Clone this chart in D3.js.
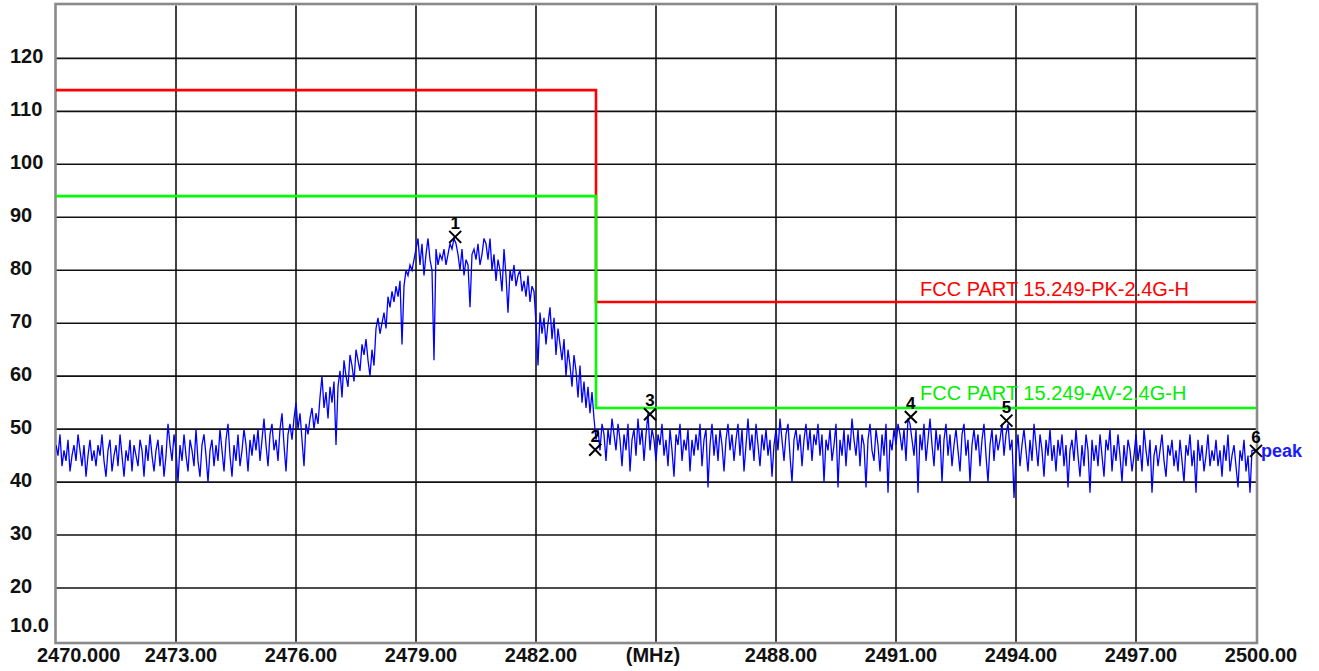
<!DOCTYPE html>
<html>
<head>
<meta charset="utf-8">
<script src="https://cdn.jsdelivr.net/npm/d3@7"></script>
<style>
  html, body { margin: 0; padding: 0; background: #fff; }
  svg { display: block; }
  text { font-family: "Liberation Sans", Arial, sans-serif; }
</style>
</head>
<body>
<svg id="chart" width="1319" height="671"></svg>
<script>
// ---------------- data ----------------
const freqStart = 2470.0;     // MHz
const freqStop = 2500.0;      // MHz
const sweepStep = 0.05;       // MHz between trace points

// peak detector trace (dBuV/m), one value per 0.05 MHz from 2470.00 MHz
const peakTrace = [
  // 2470-2471
  47,45,49,43,46,44,48,42,45,47,44,49,46,43,47,41,45,48,44,46,
  // 2471-2472
  43,47,45,49,44,41,46,48,42,45,47,43,49,45,41,46,44,48,42,47,
  // 2472-2473
  45,43,48,46,41,47,44,49,45,42,46,48,43,47,41,45,51,47,44,49,
  // 2473-2474
  46,40,47,44,49,45,42,48,46,43,50,44,41,47,49,45,40,46,48,43,
  // 2474-2475
  47,44,50,46,42,48,51,45,41,47,44,49,43,46,50,47,42,48,45,49,
  // 2475-2476
  46,50,44,48,52,47,43,49,51,46,48,44,50,53,47,42,49,51,48,52,
  // 2476-2477
  55,50,53,48,43,51,49,52,54,50,53,51,56,60,54,57,52,58,55,59,
  // 2477-2478
  47,58,61,56,63,60,58,64,62,59,65,63,61,66,64,67,63,60,65,62,
  // 2478-2479
  69,71,68,70,72,69,75,73,76,74,77,75,78,66,77,80,79,81,80,82,
  // 2479-2480
  84,86,81,85,79,83,86,82,80,63,84,81,83,82,84,81,83,85,84,86,
  // 2480-2481
  85,83,80,84,79,82,81,73,83,84,82,85,81,83,86,85,82,86,80,83,
  // 2481-2482
  78,82,80,76,84,79,72,80,78,81,77,79,80,76,78,75,79,74,77,76,
  // 2482-2483
  70,62,72,68,71,66,70,73,67,71,64,69,66,63,67,60,65,62,58,64,
  // 2483-2484
  61,56,62,55,59,54,58,53,57,52,48,50,46,51,49,44,50,47,52,49,
  // 2484-2485
  46,51,48,43,49,46,51,42,48,50,45,52,47,50,44,49,53,46,50,48,
  // 2485-2486
  44,49,47,51,45,48,43,50,46,41,49,47,51,44,48,46,50,42,48,45,
  // 2486-2487
  49,46,51,43,48,50,39,47,51,45,49,44,50,47,42,48,51,46,49,44,
  // 2487-2488
  48,51,45,50,42,47,52,46,49,44,51,47,43,49,46,50,45,48,41,47,
  // 2488-2489
  50,46,52,48,44,49,51,45,40,48,50,46,49,43,48,51,46,50,44,49,
  // 2489-2490
  47,51,45,49,40,48,46,50,44,47,51,39,48,45,50,43,49,46,52,48,
  // 2490-2491
  45,50,43,49,47,39,48,51,46,44,50,47,42,49,45,51,38,48,46,50,
  // 2491-2492
  47,51,49,46,50,44,52,51,48,45,50,38,49,46,51,44,48,52,47,43,
  // 2492-2493
  50,46,49,40,48,51,45,49,43,47,50,46,42,49,51,45,48,40,47,50,
  // 2493-2494
  46,49,43,48,51,45,40,47,50,44,49,46,48,51,45,49,51,46,48,37,
  // 2494-2495
  45,49,43,47,50,46,42,48,44,51,47,43,49,46,41,48,45,50,44,47,
  // 2495-2496
  42,48,45,49,43,47,39,46,48,44,50,45,41,47,43,49,46,38,48,44,
  // 2496-2497
  47,43,49,45,41,48,46,50,42,47,44,49,45,40,47,43,48,46,42,45,
  // 2497-2498
  49,44,47,42,50,46,43,48,38,45,47,43,46,49,44,41,47,45,48,43,
  // 2498-2499
  46,42,48,44,40,47,45,49,43,46,38,48,44,47,42,45,49,43,46,44,
  // 2499-2500
  48,43,46,41,47,44,49,42,45,47,43,39,46,44,48,42,45,38,46,46,
  46
];

// limit lines (step at 2483.5 MHz)
const limitFreqs = [2470.0, 2483.5, 2483.5, 2500.0];
const limitPK = [114, 114, 74, 74];
const limitAV = [94, 94, 54, 54];
const limitPKName = "FCC PART 15.249-PK-2.4G-H";
const limitAVName = "FCC PART 15.249-AV-2.4G-H";

// markers
const markerIds = ["1", "2", "3", "4", "5", "6"];
const markerFreqs = [2479.98, 2483.48, 2484.85, 2491.37, 2493.76, 2500.00];
const markerLevels = [86.3, 46.1, 52.8, 52.3, 51.6, 45.9];

// axes
const yTicks = [20, 30, 40, 50, 60, 70, 80, 90, 100, 110, 120];
const yTickLabels = ["20", "30", "40", "50", "60", "70", "80", "90", "100", "110", "120"];
const yBottomLabel = "10.0";
const xTicks = [2470, 2473, 2476, 2479, 2482, 2485, 2488, 2491, 2494, 2497, 2500];
const xTickLabels = ["2470.000", "2473.00", "2476.00", "2479.00", "2482.00", "(MHz)",
                     "2488.00", "2491.00", "2494.00", "2497.00", "2500.00"];
const traceName = "peak";

// ---------------- drawing ----------------
const svg = d3.select("#chart");
const x = d3.scaleLinear().domain([freqStart, freqStop]).range([56, 1256]);
const y = d3.scaleLinear().domain([10, 130]).range([641, 5.4]);

svg.append("defs").append("clipPath").attr("id", "plotclip")
  .append("rect").attr("x", 56).attr("y", 5).attr("width", 1201).attr("height", 637);

// grid
const grid = svg.append("g");
grid.selectAll("line.h").data(yTicks).join("line")
  .attr("x1", x(freqStart)).attr("x2", x(freqStop))
  .attr("y1", d => y(d)).attr("y2", d => y(d))
  .attr("stroke", "#111").attr("stroke-width", 1.6);
grid.selectAll("line.v").data(xTicks.slice(1, -1)).join("line")
  .attr("x1", d => x(d)).attr("x2", d => x(d))
  .attr("y1", y(130)).attr("y2", 643)
  .attr("stroke", "#111").attr("stroke-width", 1.6);

// frame
svg.append("rect")
  .attr("x", 55.5).attr("y", 4).attr("width", 1201.5).attr("height", 639)
  .attr("fill", "none").attr("stroke", "#8a8a8a").attr("stroke-width", 2.6);

// y labels
svg.append("g").selectAll("text").data(yTicks).join("text")
  .attr("x", 10).attr("y", d => y(d) + 5)
  .attr("font-size", 20).attr("font-weight", "bold").attr("fill", "#111")
  .text((d, i) => yTickLabels[i]);
svg.append("text").attr("x", 10).attr("y", y(10) - 9)
  .attr("font-size", 20).attr("font-weight", "bold").attr("fill", "#111")
  .text(yBottomLabel);

// x labels
svg.append("g").selectAll("text").data(xTicks).join("text")
  .attr("x", (d, i) => i === 0 ? 37 : (i === 5 ? x(d) - 3 : x(d) + 5))
  .attr("y", 662)
  .attr("text-anchor", (d, i) => i === 0 ? "start" : "middle")
  .attr("font-size", 20).attr("font-weight", "bold").attr("fill", "#111")
  .text((d, i) => xTickLabels[i]);

// limit lines
const limLine = d3.line().x(d => x(d[0])).y(d => y(d[1]));
svg.append("path")
  .attr("d", limLine(limitFreqs.map((f, i) => [f, limitPK[i]])))
  .attr("fill", "none").attr("stroke", "#ff0000").attr("stroke-width", 2.6);
svg.append("path")
  .attr("d", limLine(limitFreqs.map((f, i) => [f, limitAV[i]])))
  .attr("fill", "none").attr("stroke", "#00ff00").attr("stroke-width", 2.6);

svg.append("text").attr("x", 920).attr("y", y(74) - 6)
  .attr("font-size", 20).attr("fill", "#ff0000").text(limitPKName);
svg.append("text").attr("x", 920).attr("y", y(54) - 8)
  .attr("font-size", 20).attr("fill", "#00ee00").text(limitAVName);

// trace
const traceLine = d3.line()
  .x((d, i) => x(freqStart + i * sweepStep))
  .y(d => y(d));
svg.append("path")
  .attr("clip-path", "url(#plotclip)")
  .attr("d", traceLine(peakTrace))
  .attr("fill", "none").attr("stroke", "#0000ff").attr("stroke-width", 1.3)
  .attr("stroke-linejoin", "miter");

svg.append("text").attr("x", 1261).attr("y", y(markerLevels[5]) + 6)
  .attr("font-size", 18).attr("font-weight", "bold").attr("fill", "#1a1aff")
  .text(traceName);

// markers
const mk = svg.append("g").selectAll("g").data(markerIds).join("g")
  .attr("transform", (d, i) => `translate(${x(markerFreqs[i])},${y(markerLevels[i])})`);
mk.append("path")
  .attr("d", "M-6,-6L6,6M-6,6L6,-6")
  .attr("stroke", "#000").attr("stroke-width", 2).attr("fill", "none");
mk.append("text")
  .attr("x", 0).attr("y", -8).attr("text-anchor", "middle")
  .attr("font-size", 17).attr("font-weight", "bold").attr("fill", "#000")
  .text(d => d);
</script>
</body>
</html>
